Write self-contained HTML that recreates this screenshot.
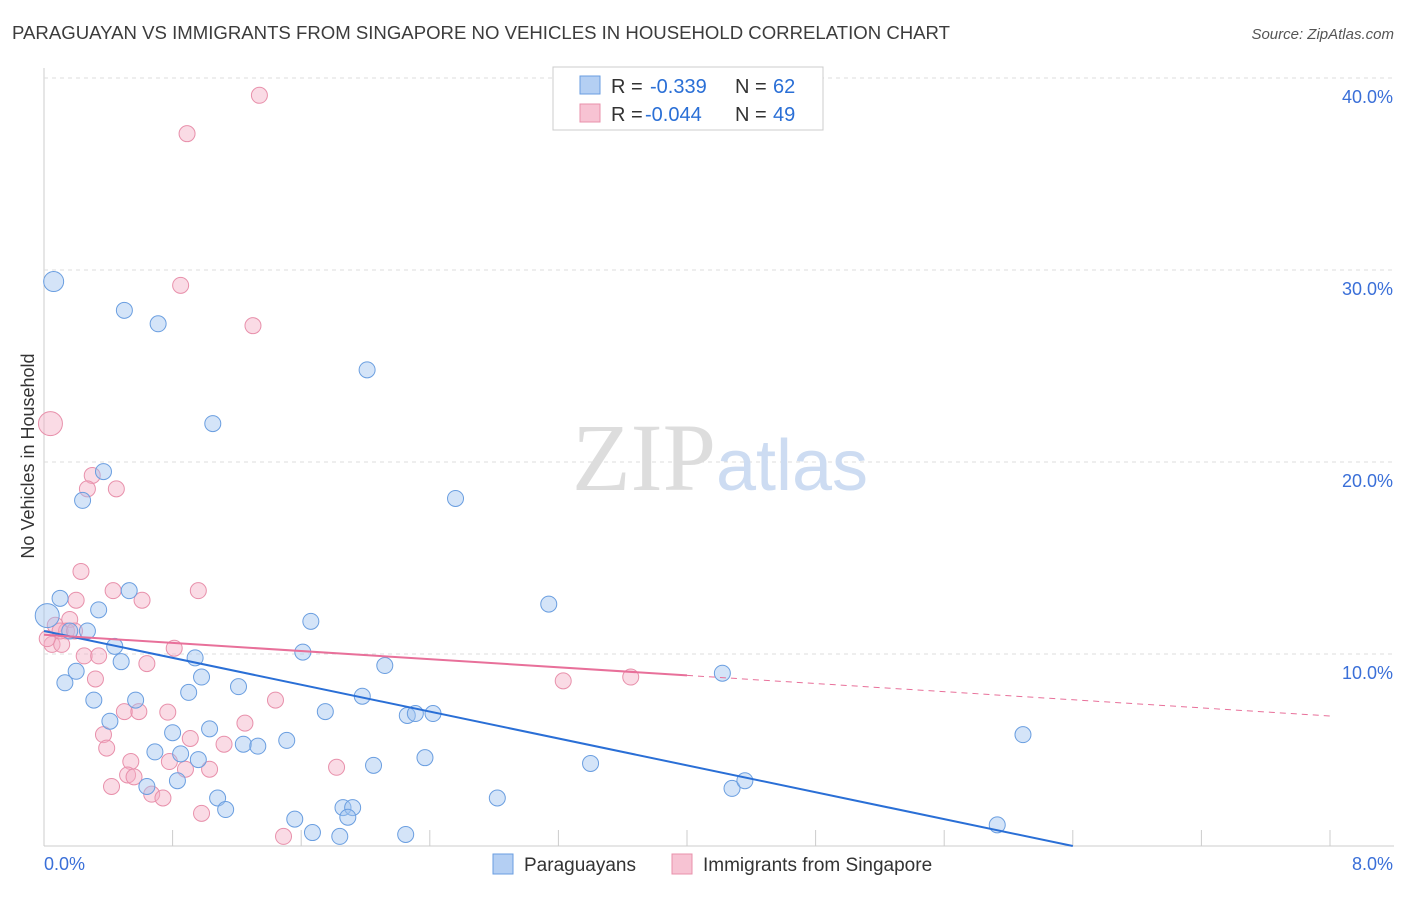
<!DOCTYPE html>
<html><head><meta charset="utf-8"><style>
body{margin:0;background:#fff;font-family:"Liberation Sans",sans-serif;}
</style></head><body>
<svg id="chart" width="1406" height="892" xmlns="http://www.w3.org/2000/svg" font-family="Liberation Sans, sans-serif">
<text x="12" y="39" font-size="18.6" fill="#3c3c3c" textLength="938">PARAGUAYAN VS IMMIGRANTS FROM SINGAPORE NO VEHICLES IN HOUSEHOLD CORRELATION CHART</text>
<text x="1394" y="39" font-size="15" fill="#555" font-style="italic" text-anchor="end">Source: ZipAtlas.com</text>
<g id="grid"></g>
<text x="720" y="490" font-size="96" text-anchor="middle" fill="#ddd" font-family="Liberation Serif, serif">ZIP<tspan fill="#cddcf2" font-family="Liberation Sans, sans-serif" font-size="72">atlas</tspan></text>
<text transform="translate(34,456) rotate(-90)" font-size="18" fill="#333" text-anchor="middle">No Vehicles in Household</text>
<g id="pts"></g>
<g id="trends"></g>
<g>
<rect x="553" y="67" width="270" height="63" fill="#fff" stroke="#ccc"/>
<rect x="580" y="76" width="20" height="18" fill="#b4cff3" stroke="#6a9ee0"/>
<text x="611" y="93" font-size="20" fill="#333">R =</text>
<text x="650" y="93" font-size="20" fill="#2a6fd6">-0.339</text>
<text x="735" y="93" font-size="20" fill="#333">N =</text>
<text x="773" y="93" font-size="20" fill="#2a6fd6">62</text>
<rect x="580" y="104" width="20" height="18" fill="#f7c3d3" stroke="#e890ab"/>
<text x="611" y="121" font-size="20" fill="#333">R =</text>
<text x="645" y="121" font-size="20" fill="#2a6fd6">-0.044</text>
<text x="735" y="121" font-size="20" fill="#333">N =</text>
<text x="773" y="121" font-size="20" fill="#2a6fd6">49</text>
</g>
<g>
<rect x="493" y="854" width="20" height="20" fill="#b4cff3" stroke="#6a9ee0"/>
<text x="524" y="871" font-size="19" fill="#333">Paraguayans</text>
<rect x="672" y="854" width="20" height="20" fill="#f7c3d3" stroke="#e890ab"/>
<text x="703" y="871" font-size="19" fill="#333">Immigrants from Singapore</text>
</g>
</svg>
<script>
const yTicks=[10,20,30,40];
const xTickLabels=["0.0%","8.0%"];
const blueX=[0.06,0.5,0.71,2.01,1.05,0.37,0.24,2.56,3.14,0.1,0.53,0.34,0.27,1.66,0.44,1.61,0.48,0.94,0.2,0.13,0.98,2.12,1.21,0.9,0.31,0.57,1.98,4.22,1.75,2.26,2.31,2.42,0.41,1.03,0.8,0.69,0.85,0.96,1.24,1.33,1.51,2.37,2.05,3.4,0.83,0.64,1.08,1.13,2.82,4.28,4.36,6.09,1.86,1.92,1.89,1.56,1.67,1.84,2.25,5.93,0.02,0.16];
const blueY=[29.4,27.9,27.2,24.8,22.0,19.5,18.0,18.1,12.6,12.9,13.3,12.3,11.2,11.7,10.4,10.1,9.6,9.8,9.1,8.5,8.8,9.4,8.3,8.0,7.6,7.6,7.8,9.0,7.0,6.8,6.9,6.9,6.5,6.1,5.9,4.9,4.8,4.5,5.3,5.2,5.5,4.6,4.2,4.3,3.4,3.1,2.5,1.9,2.5,3.0,3.4,5.8,2.0,2.0,1.5,1.4,0.7,0.5,0.6,1.1,12.0,11.2];
const blueR=[10,8,8,8,8,8,8,8,8,8,8,8,8,8,8,8,8,8,8,8,8,8,8,8,8,8,8,8,8,8,8,8,8,8,8,8,8,8,8,8,8,8,8,8,8,8,8,8,8,8,8,8,8,8,8,8,8,8,8,8,12,8];
const pinkX=[1.34,0.89,0.85,1.3,0.04,0.3,0.27,0.45,0.23,0.43,0.96,0.2,0.61,0.16,0.07,0.14,0.05,0.11,0.25,0.34,0.81,0.64,0.32,1.44,0.5,0.77,0.59,1.25,0.37,1.12,0.91,0.39,0.78,0.54,1.03,0.88,1.82,0.52,0.56,3.23,3.65,0.42,0.67,0.74,0.98,1.49,0.1,0.02,0.19];
const pinkY=[39.1,37.1,29.2,27.1,22.0,19.3,18.6,18.6,14.3,13.3,13.3,12.8,12.8,11.8,11.5,11.2,10.5,10.5,9.9,9.9,10.3,9.5,8.7,7.6,7.0,6.97,7.0,6.4,5.8,5.3,5.6,5.1,4.4,4.4,4.0,4.0,4.1,3.7,3.6,8.6,8.8,3.1,2.7,2.5,1.7,0.5,11.2,10.8,11.2];
const pinkR=[8,8,8,8,12,8,8,8,8,8,8,8,8,8,8,8,8,8,8,8,8,8,8,8,8,8,8,8,8,8,8,8,8,8,8,8,8,8,8,8,8,8,8,8,8,8,8,8,8];
const blueTrend=[11.2,0]; const blueTrendEndX=6.4;
const pinkTrend=[11.0,6.77]; const pinkSolidEndX=4.0;
const X=v=>44+v*160.75, Y=v=>846-v*19.2;
const NS="http://www.w3.org/2000/svg";
function mk(t,a,p){const e=document.createElementNS(NS,t);for(const k in a)e.setAttribute(k,a[k]);p.appendChild(e);return e;}
const grid=document.getElementById('grid');
mk('line',{x1:44,y1:68,x2:44,y2:846,stroke:'#ccc'},grid);
mk('line',{x1:44,y1:846,x2:1394,y2:846,stroke:'#ccc'},grid);
for(let i=1;i<=10;i++){mk('line',{x1:X(i*0.8),y1:830,x2:X(i*0.8),y2:846,stroke:'#ccc'},grid);}
yTicks.forEach(t=>{
 const l=mk('line',{x1:44,y1:Y(t),x2:1394,y2:Y(t),stroke:'#ddd','stroke-dasharray':'4,4'},grid);
 
 
 const tx=mk('text',{x:1393,y:Y(t)+25,'font-size':18,fill:'#3a6fd8','text-anchor':'end'},grid);
 tx.textContent=t.toFixed(1)+'%';
 
 
});
const xl0=mk('text',{x:44,y:870,'font-size':18,fill:'#3a6fd8'},grid);xl0.textContent=xTickLabels[0];


const xl1=mk('text',{x:1393,y:870,'font-size':18,fill:'#3a6fd8','text-anchor':'end'},grid);xl1.textContent=xTickLabels[1];


const pts=document.getElementById('pts');
pinkX.forEach((v,i)=>{const c=mk('circle',{cx:X(v),cy:Y(pinkY[i]),r:pinkR[i],fill:'rgba(245,175,198,0.45)',stroke:'#e890ab','stroke-width':1},pts);
 
 });
blueX.forEach((v,i)=>{const c=mk('circle',{cx:X(v),cy:Y(blueY[i]),r:blueR[i],fill:'rgba(160,195,240,0.45)',stroke:'#6a9ee0','stroke-width':1},pts);
 
 });
const tr=document.getElementById('trends');
const bl=mk('line',{x1:X(0),y1:Y(blueTrend[0]),x2:X(blueTrendEndX),y2:Y(blueTrend[1]),stroke:'#2a6fd6','stroke-width':2},tr);


const pAt=x=>pinkTrend[0]+(pinkTrend[1]-pinkTrend[0])*x/8;
const pl=mk('line',{x1:X(0),y1:Y(pinkTrend[0]),x2:X(pinkSolidEndX),y2:Y(pAt(pinkSolidEndX)),stroke:'#e8709a','stroke-width':2},tr);


const pd=mk('line',{x1:X(pinkSolidEndX),y1:Y(pAt(pinkSolidEndX)),x2:X(8),y2:Y(pinkTrend[1]),stroke:'#e8709a','stroke-width':1,'stroke-dasharray':'6,5'},tr);


</script>
</body></html>
